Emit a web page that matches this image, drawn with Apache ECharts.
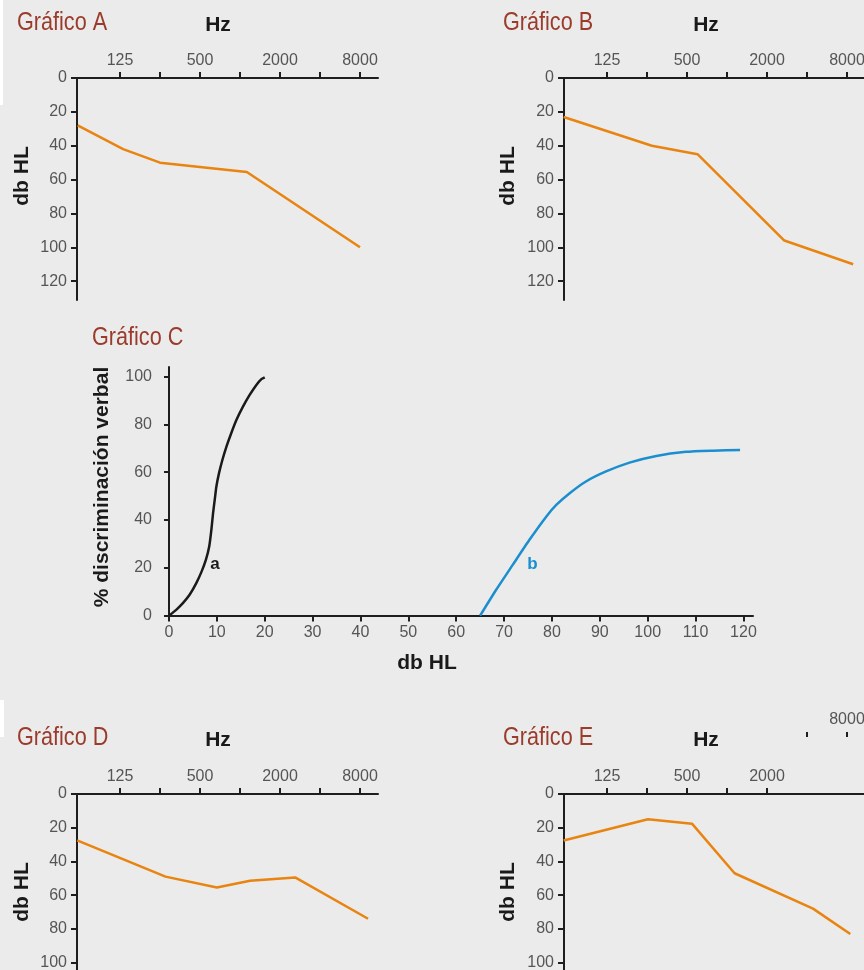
<!DOCTYPE html>
<html><head><meta charset="utf-8">
<script src="https://cdn.jsdelivr.net/npm/echarts@6/dist/echarts.min.js"></script>
<style>html,body{margin:0;padding:0;background:#ebebeb}#c{width:864px;height:970px}</style>
</head><body><div id="c"></div>
<script>
// ---- data ----
const octaveTicks = [0, 1, 2, 3, 4, 5, 6];          // octaves above 125 Hz (125..8000)
const hzLabelOctaves = [0, 2, 4, 6];                 // 125, 500, 2000, 8000
const dbTicks = [0, 20, 40, 60, 80, 100, 120];
const dbTicksShort = [0, 20, 40, 60, 80, 100];

const aHz = [60, 132, 250, 1125, 8000];
const aDb = [28, 42, 50, 55.5, 100];
const bHz = [59, 272, 600, 2700, 8900];
const bDb = [23, 40, 45, 96, 110];
const dHz = [59.5, 275, 670, 1190, 2600, 9200];
const dDb = [27.5, 49, 55.5, 51.5, 49.5, 74];
const eHz = [59, 254, 545, 1140, 4440, 8470];
const eDb = [27.6, 15, 17.6, 47, 68, 83];
const eMainTicks = [0, 1, 2, 3, 4];
const eMainLabels = [0, 2, 4];
const eShiftedTicks = [5, 6];
const eShiftedLabels = [6];

const cXTicks = [0,10,20,30,40,50,60,70,80,90,100,110,120];
const cYTicks = [0,20,40,60,80,100];
const curveAx = [0, 1.5, 2.9, 4.3, 5.7, 6.8, 7.7, 8.4, 8.85, 9.2, 9.55, 9.9, 10.45, 11.15, 12, 13, 14.1, 15.45, 16.85, 18.25, 19.3, 20];
const curveAy = [0, 2.4, 5.2, 8.7, 13.6, 18.4, 23.3, 28.9, 35.9, 42.8, 48.4, 54, 59.6, 65.1, 70.7, 76.3, 81.9, 87.4, 92.3, 96.5, 98.9, 99.7];
const curveBx = [65, 68.35, 71.8, 75.3, 78.8, 80.9, 83.7, 87.1, 91.3, 96.2, 101.8, 108, 113.6, 119.3];
const curveBy = [0, 10.8, 21.2, 31.7, 41.4, 46.3, 51.2, 56.1, 60.3, 64, 66.8, 68.5, 69, 69.3];
const labelA = [9.6, 21.5];
const labelB = [75.9, 21.5];

// ---- helpers ----
const oct = f => Math.log2(f / 125);
const zip = (xs, ys) => xs.map((x, i) => [x, ys[i]]);
const REG = '"Liberation Sans",Arial,sans-serif';
const BOLD = '"Liberation Sans",Arial,sans-serif';
const AXIS = '#1e1e1e', LBL = '#555555', ORANGE = '#e8840f', TITLE = '#9a3b2b';
const BLACK = '#1a1a1a', BLUE = '#1b8ecf';

const grids = [], xAxes = [], yAxes = [], series = [];
const hzFmt = v => String(Math.round(125 * Math.pow(2, v)));

function audio(left, top, width, height, yMax, yTicks, hz, db, xTicks, xLabels) {
  const i = grids.length;
  grids.push({left, top, width, height});
  xAxes.push({
    gridIndex: i, type: 'value', position: 'top', min: -43/40, max: -43/40 + width/40,
    axisLine: {show: true, onZero: false, lineStyle: {color: AXIS, width: 2}},
    axisTick: {show: true, customValues: xTicks, length: 6, lineStyle: {color: AXIS, width: 2}},
    axisLabel: {show: true, customValues: xLabels, margin: 9, color: LBL, fontSize: 16, fontFamily: REG, formatter: hzFmt},
    splitLine: {show: false}
  });
  yAxes.push({
    gridIndex: i, type: 'value', inverse: true, min: 0, max: yMax,
    axisLine: {show: true, onZero: false, lineStyle: {color: AXIS, width: 2}},
    axisTick: {show: true, customValues: yTicks, length: 6, lineStyle: {color: AXIS, width: 2}},
    axisLabel: {show: true, customValues: yTicks, margin: 10, color: LBL, fontSize: 16, fontFamily: REG},
    splitLine: {show: false}
  });
  series.push({
    type: 'line', xAxisIndex: i, yAxisIndex: i, data: zip(hz.map(oct), db),
    symbol: 'none', lineStyle: {color: ORANGE, width: 2.5}, z: 3
  });
}

audio(77, 78, 301, 222, 222/1.693, dbTicks, aHz, aDb, octaveTicks, hzLabelOctaves);
audio(564, 78, 310, 222, 222/1.693, dbTicks, bHz, bDb, octaveTicks, hzLabelOctaves);
audio(77, 794, 301, 200, 200/1.686, dbTicksShort, dHz, dDb, octaveTicks, hzLabelOctaves);
audio(564, 794, 310, 200, 200/1.686, dbTicksShort, eHz, eDb, eMainTicks, eMainLabels);

// displaced part of the E frequency axis (4000, 8000)
{
  const i = grids.length;
  grids.push({left: 564, top: 737, width: 310, height: 10});
  xAxes.push({
    gridIndex: i, type: 'value', position: 'top', min: -43/40, max: -43/40 + 310/40,
    axisLine: {show: false, onZero: false},
    axisTick: {show: true, customValues: eShiftedTicks, length: 5, lineStyle: {color: AXIS, width: 2}},
    axisLabel: {show: true, customValues: eShiftedLabels, margin: 9, color: LBL, fontSize: 16, fontFamily: REG, formatter: hzFmt},
    splitLine: {show: false}
  });
  yAxes.push({gridIndex: i, type: 'value', show: false});
}

// Gráfico C
{
  const i = grids.length;
  grids.push({left: 169, top: 367, width: 584, height: 248.6});
  xAxes.push({
    gridIndex: i, type: 'value', min: 0, max: 122,
    axisLine: {show: true, onZero: false, lineStyle: {color: AXIS, width: 2}},
    axisTick: {show: true, customValues: cXTicks, length: 6, lineStyle: {color: AXIS, width: 2}},
    axisLabel: {show: true, customValues: cXTicks, margin: 9, color: LBL, fontSize: 16, fontFamily: REG},
    splitLine: {show: false}
  });
  yAxes.push({
    gridIndex: i, type: 'value', min: 0, max: 104,
    axisLine: {show: true, onZero: false, lineStyle: {color: AXIS, width: 2}},
    axisTick: {show: true, customValues: cYTicks, length: 5, lineStyle: {color: AXIS, width: 2}},
    axisLabel: {show: true, customValues: cYTicks, margin: 17, color: LBL, fontSize: 16, fontFamily: REG},
    splitLine: {show: false}
  });
  series.push({type: 'line', xAxisIndex: i, yAxisIndex: i, data: zip(curveAx, curveAy), smooth: 0.2,
    symbol: 'none', lineStyle: {color: BLACK, width: 2.5}});
  series.push({type: 'line', xAxisIndex: i, yAxisIndex: i, data: zip(curveBx, curveBy), smooth: 0.2,
    symbol: 'none', lineStyle: {color: BLUE, width: 2.5}});
  const mk = (pt, name, col) => ({
    type: 'line', xAxisIndex: i, yAxisIndex: i, data: [], silent: true, lineStyle: {opacity: 0},
    markPoint: {silent: true, symbol: 'circle', symbolSize: 1, itemStyle: {color: 'rgba(0,0,0,0)'},
      data: [{coord: pt, value: name}],
      label: {show: true, position: 'inside', formatter: name, color: col, opacity: 1,
        fontSize: 17, fontWeight: 'bold', fontFamily: BOLD}}
  });
  series.push(mk(labelA, 'a', BLACK));
  series.push(mk(labelB, 'b', BLUE));
}

const txt = (text, x, y, font, fill, rot, align, sx) => ({
  type: 'text', x, y, rotation: rot || 0, scaleX: sx || 1, silent: true,
  style: {text, font, fill, align: align || 'left', verticalAlign: 'middle'}
});
const TFONT = '25px ' + REG;
const BFONT = 'bold 21px ' + BOLD;
const HFONT = 'bold 21px ' + BOLD;
const TS = 0.865;
const graphic = [
  {type: 'rect', shape: {x: 0, y: 0, width: 3, height: 105}, style: {fill: '#ffffff'}, silent: true},
  {type: 'rect', shape: {x: 0, y: 700, width: 4, height: 37}, style: {fill: '#ffffff'}, silent: true},
  txt('Gráfico A', 17, 23, TFONT, TITLE, 0, 'left', TS),
  txt('Gráfico B', 503, 23, TFONT, TITLE, 0, 'left', TS),
  txt('Gráfico C', 92, 338, TFONT, TITLE, 0, 'left', TS),
  txt('Gráfico D', 17, 738, TFONT, TITLE, 0, 'left', TS),
  txt('Gráfico E', 503, 738, TFONT, TITLE, 0, 'left', TS),
  txt('Hz', 218, 25, HFONT, BLACK, 0, 'center'),
  txt('Hz', 706, 25, HFONT, BLACK, 0, 'center'),
  txt('Hz', 218, 740, HFONT, BLACK, 0, 'center'),
  txt('Hz', 706, 740, HFONT, BLACK, 0, 'center'),
  txt('db HL', 22, 176, BFONT, BLACK, Math.PI/2, 'center'),
  txt('db HL', 508, 176, BFONT, BLACK, Math.PI/2, 'center'),
  txt('db HL', 22, 892, BFONT, BLACK, Math.PI/2, 'center'),
  txt('db HL', 508, 892, BFONT, BLACK, Math.PI/2, 'center'),
  txt('% discriminación verbal', 102, 487, BFONT, BLACK, Math.PI/2, 'center'),
  txt('db HL', 427, 663, BFONT, BLACK, 0, 'center')
];

const chart = echarts.init(document.getElementById('c'), null, {renderer: 'canvas'});
chart.setOption({
  backgroundColor: '#ebebeb',
  animation: false,
  grid: grids.map(g => Object.assign({outerBoundsMode: 'none', containLabel: false}, g)),
  xAxis: xAxes, yAxis: yAxes, series, graphic
});
</script></body></html>
